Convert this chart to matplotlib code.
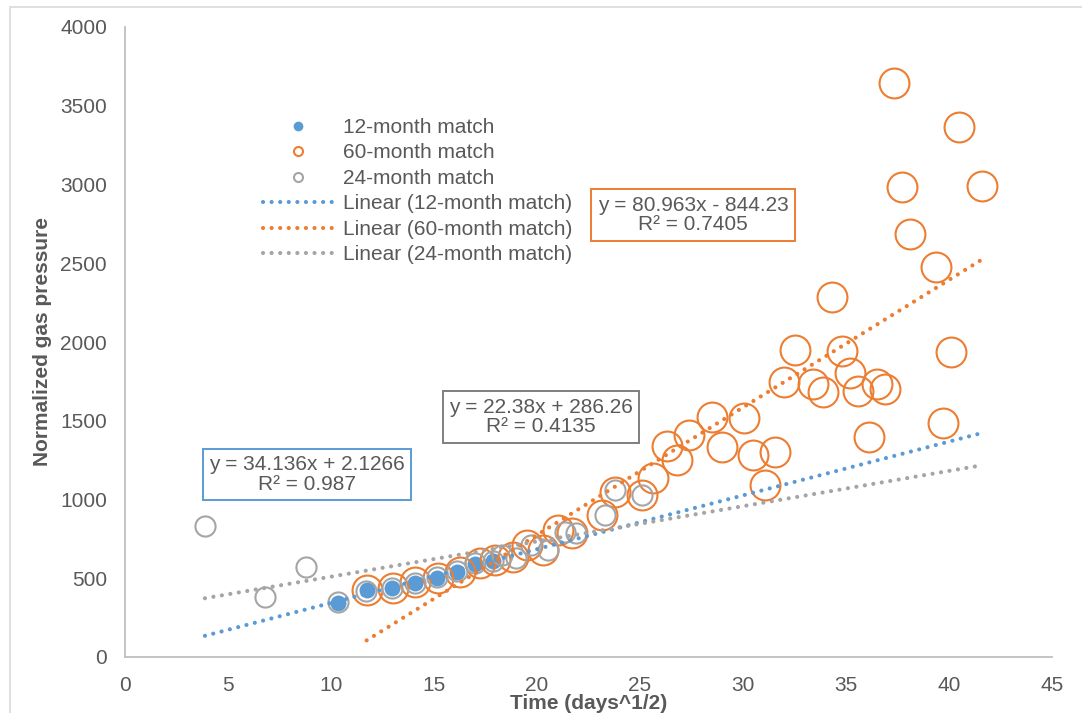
import matplotlib
matplotlib.use("Agg")
import matplotlib.pyplot as plt
from matplotlib.lines import Line2D
from matplotlib.patches import Rectangle
import numpy as np

plt.rcParams['font.family'] = ['Liberation Sans', 'DejaVu Sans']

# series colours
c12 = '#5B9BD5'
c60 = '#ED7D31'
c24 = '#A5A5A5'
txt = '#595959'

# 12-month match
x12 = [10.35, 11.73, 12.95, 14.08, 15.13, 16.10, 16.99, 17.88]
y12 = [345, 425, 436, 472, 500, 542, 590, 612]

# 24-month match
x24 = [3.88, 6.80, 8.79, 10.35, 11.70, 12.95, 14.08, 15.13, 16.10, 16.99,
       17.88, 18.30, 19.00, 19.70, 20.55, 21.36, 21.90, 23.30, 23.80, 25.10]
y24 = [832, 381, 571, 351, 418, 436, 472, 505, 545, 595,
       612, 648, 627, 711, 679, 796, 785, 902, 1060, 1028]

# 60-month match
x60 = [11.73, 13.00, 14.08, 15.20, 16.26, 17.23, 17.96, 18.85, 19.50, 20.30,
       21.00, 21.70, 23.14, 23.80, 25.10, 25.65, 26.30, 26.80, 27.40, 28.50,
       29.00, 30.06, 30.50, 31.05, 31.55, 32.00, 32.50, 33.40, 33.90, 34.30,
       34.80, 35.20, 35.60, 36.10, 36.50, 36.90, 37.35, 37.74, 38.10, 39.35,
       39.70, 40.10, 40.50, 41.60]
y60 = [425, 436, 478, 500, 542, 600, 616, 637, 711, 679,
       806, 785, 902, 1050, 1028, 1135, 1342, 1251, 1410, 1526,
       1331, 1515, 1283, 1092, 1304, 1748, 1949, 1733, 1685, 2288,
       1945, 1801, 1689, 1399, 1733, 1700, 3643, 2982, 2684, 2478,
       1484, 1939, 3367, 2990]

# linear trend coefficients (slope, intercept, r2) and x extent of each line
fit12 = (34.136, 2.1266, 0.987)
fit60 = (80.963, -844.23, 0.7405)
fit24 = (22.38, 286.26, 0.4135)
span12 = (3.88, 41.6)
span60 = (11.73, 41.6)
span24 = (3.88, 41.6)

fig = plt.figure(figsize=(10.82, 7.13), dpi=100)
# outer chart border
fig.patches.append(Rectangle((10 / 1082, -0.05), 1.2, 1 - 7 / 713 + 0.05,
                             transform=fig.transFigure, fill=False,
                             edgecolor='#D9D9D9', lw=1.2))
ax = fig.add_axes([125 / 1082, 56 / 713, 927 / 1082, 630 / 713])

ax.plot(x12, y12, 'o', ms=11.5, mfc=c12, mec='none', zorder=3)
ax.plot(x60, y60, 'o', ms=21.5, mfc='none', mec=c60, mew=1.5, zorder=4)
ax.plot(x24, y24, 'o', ms=14.5, mfc='none', mec=c24, mew=1.5, zorder=5)


def trend(fit, span, color):
    xs = np.array(span)
    ax.plot(xs, fit[0] * xs + fit[1], color=color, lw=3,
            linestyle=(0, (0.01, 2.05)), dash_capstyle='round', zorder=6)


trend(fit12, span12, c12)
trend(fit60, span60, c60)
trend(fit24, span24, c24)


def eq_box(x, y, fit, color):
    sign = '+' if fit[1] >= 0 else '-'
    s = f"y = {fit[0]:g}x {sign} {abs(fit[1]):g}\nR² = {fit[2]:g}"
    ax.text(x, y, s, ha='center', va='center', fontsize=15, color=txt,
            linespacing=1.05, zorder=8,
            bbox=dict(boxstyle='square,pad=0.3', fc='white', ec=color, lw=1.4))


eq_box(8.82, 1157, fit12, c12)
eq_box(20.18, 1524, fit24, '#7F7F7F')
eq_box(27.57, 2806, fit60, c60)

ax.set_xlim(0, 45)
ax.set_ylim(0, 4000)
ax.set_xticks(np.arange(0, 46, 5))
ax.set_yticks(np.arange(0, 4001, 500))
ax.tick_params(axis='both', length=0, labelsize=15, labelcolor=txt)
ax.tick_params(axis='x', pad=14)
ax.tick_params(axis='y', pad=13)
for side in ['top', 'right']:
    ax.spines[side].set_visible(False)
for side in ['left', 'bottom']:
    ax.spines[side].set_color('#BFBFBF')
    ax.spines[side].set_linewidth(1.3)

ax.set_xlabel('Time (days^1/2)', fontsize=15, fontweight='bold', color=txt)
ax.set_ylabel('Normalized gas pressure', fontsize=15, fontweight='bold', color=txt)
ax.xaxis.set_label_coords(0.5, -0.059)
ax.yaxis.set_label_coords(-0.079, 0.5)

handles = [
    Line2D([], [], ls='none', marker='o', ms=7, mfc=c12, mec='none'),
    Line2D([], [], ls='none', marker='o', ms=6.5, mfc='none', mec=c60, mew=1.5),
    Line2D([], [], ls='none', marker='o', ms=6.5, mfc='none', mec=c24, mew=1.5),
    Line2D([], [], color=c12, lw=3, linestyle=(0, (0.01, 2.05)), dash_capstyle='round'),
    Line2D([], [], color=c60, lw=3, linestyle=(0, (0.01, 2.05)), dash_capstyle='round'),
    Line2D([], [], color=c24, lw=3, linestyle=(0, (0.01, 2.05)), dash_capstyle='round'),
]
labels = ['12-month match', '60-month match', '24-month match',
          'Linear (12-month match)', 'Linear (60-month match)',
          'Linear (24-month match)']
leg = fig.legend(handles, labels, loc='upper left',
                 bbox_to_anchor=(263 / 1082, 1 - 118 / 713),
                 frameon=False, fontsize=15, labelcolor=txt,
                 borderpad=0, borderaxespad=0, handlelength=3.4,
                 handletextpad=0.45, labelspacing=0.31)

fig.savefig('out.png', dpi=100)
